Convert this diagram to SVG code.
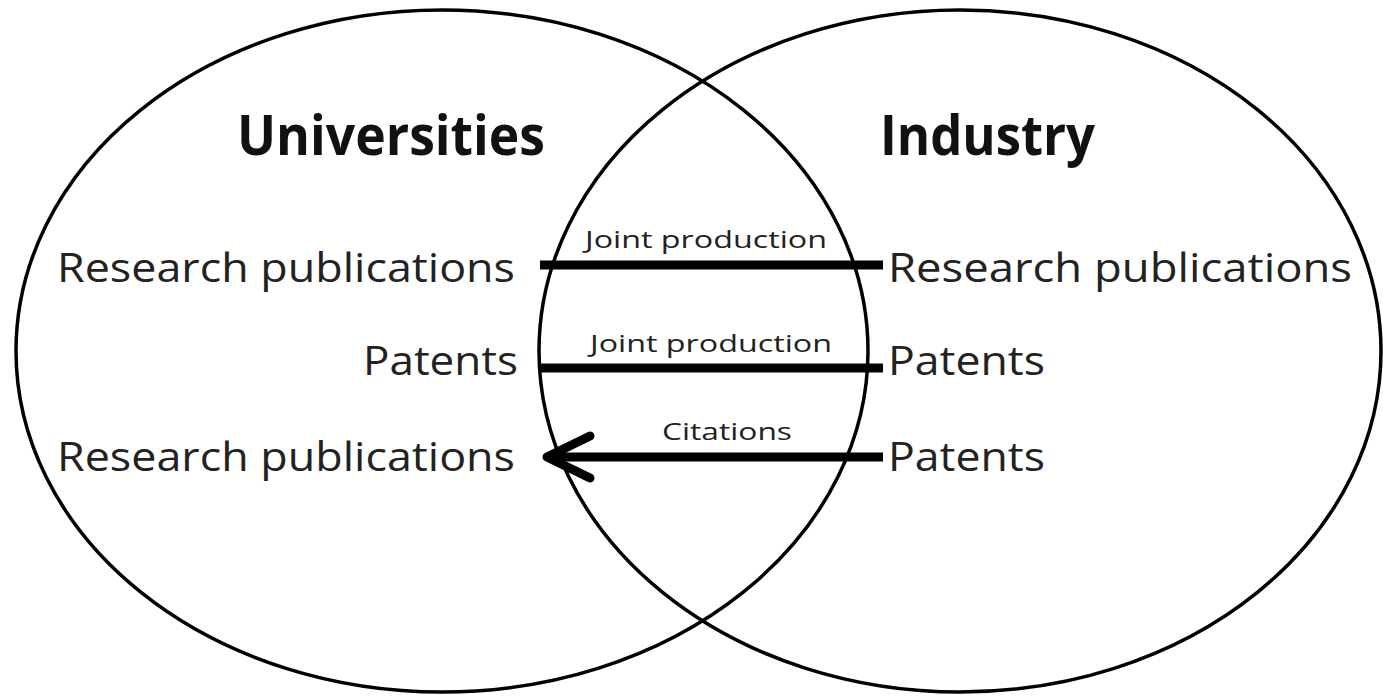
<svg xmlns="http://www.w3.org/2000/svg" width="1383" height="698" viewBox="0 0 1383 698">
<style>
.set{fill:none;stroke:#000;stroke-width:3.5}
.title{font-family:"Open Sans","Liberation Sans",sans-serif;font-weight:bold;font-size:55px;fill:#111}
.item{font-family:"Open Sans","Liberation Sans",sans-serif;font-size:41px;fill:#222}
.lab{font-family:"Open Sans","Liberation Sans",sans-serif;font-size:24px;fill:#222}
.conn{stroke:#000;stroke-width:9;fill:none}
</style>
<rect width="1383" height="698" fill="#fff"/>
<g id="universities">
<ellipse class="set" cx="442" cy="351" rx="426" ry="341"/>
<text class="title" x="237" y="155" textLength="308" lengthAdjust="spacingAndGlyphs">Universities</text>
<text class="item" x="57" y="282" textLength="458" lengthAdjust="spacingAndGlyphs">Research publications</text>
<text class="item" x="363" y="375" textLength="155" lengthAdjust="spacingAndGlyphs">Patents</text>
<text class="item" x="57" y="471" textLength="458" lengthAdjust="spacingAndGlyphs">Research publications</text>
</g>
<g id="industry">
<ellipse class="set" cx="960" cy="351" rx="421" ry="341"/>
<text class="title" x="880" y="155" textLength="215" lengthAdjust="spacingAndGlyphs">Industry</text>
<text class="item" x="888" y="282" textLength="464" lengthAdjust="spacingAndGlyphs">Research publications</text>
<text class="item" x="888" y="375" textLength="157" lengthAdjust="spacingAndGlyphs">Patents</text>
<text class="item" x="888" y="471" textLength="157" lengthAdjust="spacingAndGlyphs">Patents</text>
</g>
<g id="connectors">
<line class="conn" x1="540" y1="265" x2="883" y2="265"/>
<text class="lab" x="585" y="248" textLength="242" lengthAdjust="spacingAndGlyphs">Joint production</text>
<line class="conn" x1="540" y1="368" x2="883" y2="368"/>
<text class="lab" x="590" y="352" textLength="242" lengthAdjust="spacingAndGlyphs">Joint production</text>
<line class="conn" x1="548" y1="457" x2="883" y2="457"/>
<path class="conn" d="M590 436 L547 457 L590 478" stroke-width="10" stroke-linecap="round" stroke-linejoin="round"/>
<text class="lab" x="662" y="440" textLength="130" lengthAdjust="spacingAndGlyphs">Citations</text>
</g>
</svg>
